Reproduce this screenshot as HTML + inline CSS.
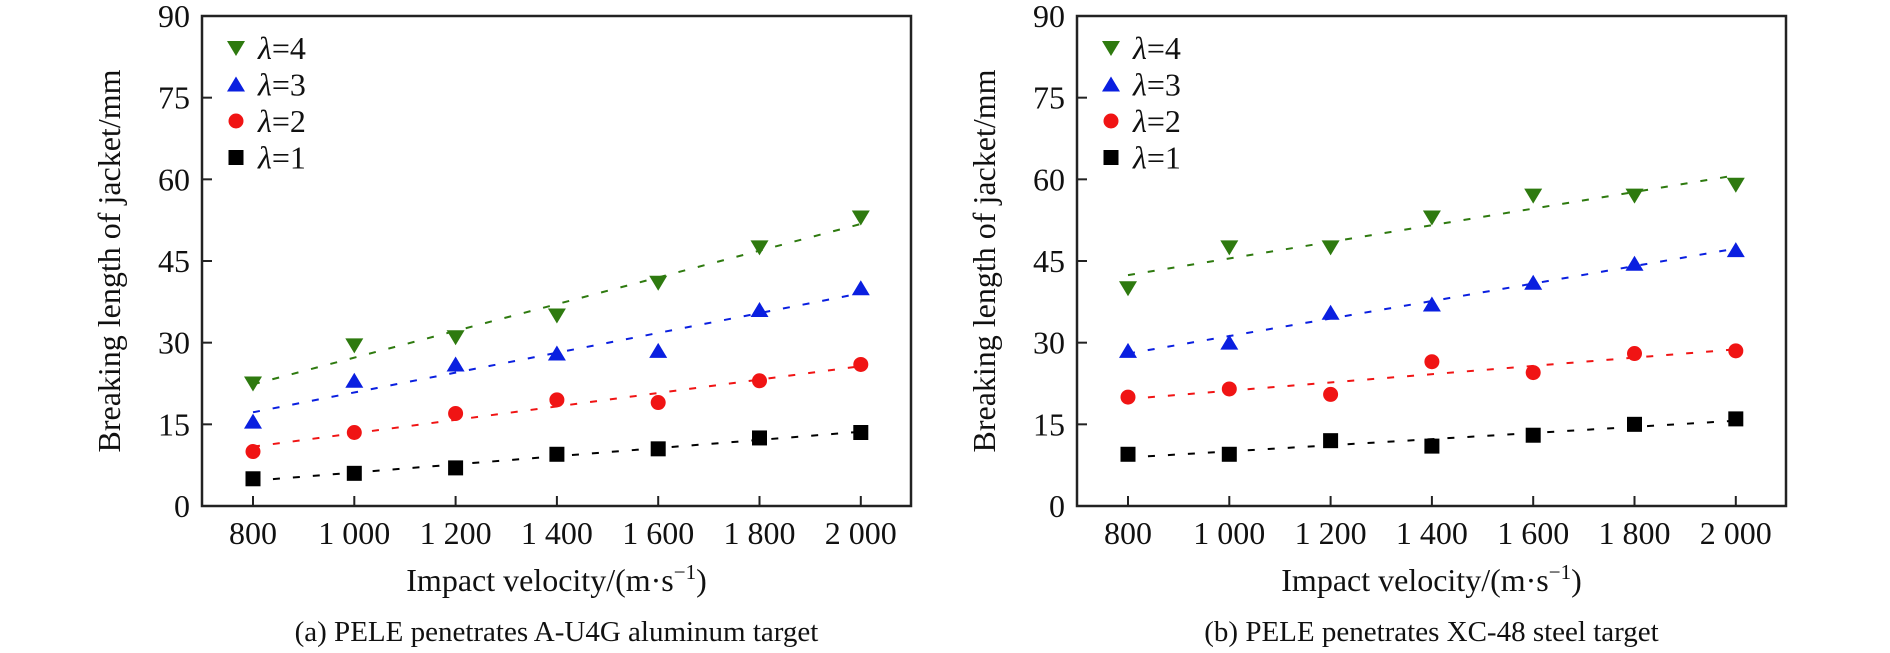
<!DOCTYPE html>
<html><head><meta charset="utf-8">
<style>
html,body{margin:0;padding:0;background:#fff;}
svg{display:block;}
text{font-family:"Liberation Serif",serif;fill:#111;}
</style></head>
<body>
<svg id="chart" width="1890" height="653" viewBox="0 0 1890 653"></svg>
<script>
const categories = [800, 1000, 1200, 1400, 1600, 1800, 2000];
const xTickLabels = ["800", "1 000", "1 200", "1 400", "1 600", "1 800", "2 000"];
const yTicks = [0, 15, 30, 45, 60, 75, 90];
const seriesNames = ["λ=4", "λ=3", "λ=2", "λ=1"];
const aL4 = [22.5, 29.5, 31, 35, 41, 47.5, 53];
const aL3 = [15.5, 23, 26, 28, 28.5, 36, 40];
const aL2 = [10, 13.5, 17, 19.5, 19, 23, 26];
const aL1 = [5, 6, 7, 9.5, 10.5, 12.5, 13.5];
const bL4 = [40, 47.5, 47.5, 53, 57, 57, 59];
const bL3 = [28.5, 30, 35.5, 37, 41, 44.5, 47];
const bL2 = [20, 21.5, 20.5, 26.5, 24.5, 28, 28.5];
const bL1 = [9.5, 9.5, 12, 11, 13, 15, 16];
const captions = ["(a) PELE penetrates A-U4G aluminum target", "(b) PELE penetrates XC-48 steel target"];

const NS = "http://www.w3.org/2000/svg";
const svg = document.getElementById("chart");
function mk(tag, attrs, parent) {
  const e = document.createElementNS(NS, tag);
  for (const k in attrs) e.setAttribute(k, attrs[k]);
  (parent || svg).appendChild(e);
  return e;
}
const colors = ["#2e7a0f", "#0a1fe0", "#f01414", "#000000"];
const shapes = ["down", "up", "circle", "square"];
const FS = 32;

function marker(g, shape, cx, cy, color) {
  let m;
  if (shape === "down") m = mk("polygon", {points: `${cx-9},${cy-7} ${cx+9},${cy-7} ${cx},${cy+8}`, fill: color}, g);
  else if (shape === "up") m = mk("polygon", {points: `${cx-9},${cy+7} ${cx+9},${cy+7} ${cx},${cy-8}`, fill: color}, g);
  else if (shape === "circle") m = mk("circle", {cx: cx, cy: cy, r: 7.5, fill: color}, g);
  else m = mk("rect", {x: cx-7.5, y: cy-7.5, width: 15, height: 15, fill: color}, g);
  return m;
}

function drawPanel(idx, ox, series) {
  const L = 202 + ox, R = 911 + ox, T = 16, B = 506;
  const xs = v => L + 51 + (v - 800) / 200 * 101.3;
  const ys = v => B - v / 90 * (B - T);
  const g = mk("g", {});
  
  
  const frame = mk("rect", {x: L, y: T, width: R - L, height: B - T, fill: "none", stroke: "#222", "stroke-width": 2.5}, g);
  
  
  yTicks.forEach(v => {
    const y = ys(v);
    if (v > 0 && v < 90) mk("line", {x1: L, x2: L + 10, y1: y, y2: y, stroke: "#222", "stroke-width": 2}, g);
    const t = mk("text", {x: L - 12, y: y + 11, "text-anchor": "end", "font-size": FS}, g);
    t.textContent = v;
    
    
  });
  categories.forEach((c, i) => {
    const x = xs(c);
    mk("line", {x1: x, x2: x, y1: B, y2: B - 10, stroke: "#222", "stroke-width": 2}, g);
    const t = mk("text", {x: x, y: B + 38, "text-anchor": "middle", "font-size": FS}, g);
    t.textContent = xTickLabels[i];
    
    
  });
  const yt = mk("text", {x: 0, y: 0, "text-anchor": "middle", "font-size": FS, transform: `translate(${L - 82},${(T + B) / 2}) rotate(-90)`}, g);
  yt.textContent = "Breaking length of jacket/mm";
  
  
  const xt = mk("text", {x: (L + R) / 2, y: 591, "text-anchor": "middle", "font-size": FS}, g);
  xt.innerHTML = 'Impact velocity/(m·s<tspan dy="-12" font-size="21">−1</tspan><tspan dy="12">)</tspan>';
  
  
  const cap = mk("text", {x: (L + R) / 2, y: 641, "text-anchor": "middle", "font-size": 29}, g);
  cap.textContent = captions[idx];
  
  

  series.forEach((vals, s) => {
    const n = categories.length;
    let sx = 0, sy = 0, sxx = 0, sxy = 0;
    categories.forEach((c, i) => { sx += c; sy += vals[i]; sxx += c * c; sxy += c * vals[i]; });
    const b = (n * sxy - sx * sy) / (n * sxx - sx * sx);
    const a = (sy - b * sx) / n;
    const fl = mk("line", {x1: xs(800), y1: ys(a + b * 800), x2: xs(2000), y2: ys(a + b * 2000), stroke: colors[s], "stroke-width": 2, "stroke-dasharray": "7 13"}, g);
    
    
    vals.forEach((v, i) => {
      const m = marker(g, shapes[s], xs(categories[i]), ys(v), colors[s]);
      
      
    });
  });
  seriesNames.forEach((nm, s) => {
    const y = 48 + s * 36.5;
    const m = marker(g, shapes[s], L + 34, y, colors[s]);
    
    
    const t = mk("text", {x: L + 56, y: y + 11, "font-size": FS}, g);
    t.innerHTML = '<tspan font-style="italic">λ</tspan>=' + nm.slice(2);
    
    
  });
}
drawPanel(0, 0, [aL4, aL3, aL2, aL1]);
drawPanel(1, 875, [bL4, bL3, bL2, bL1]);
</script>
</body></html>
